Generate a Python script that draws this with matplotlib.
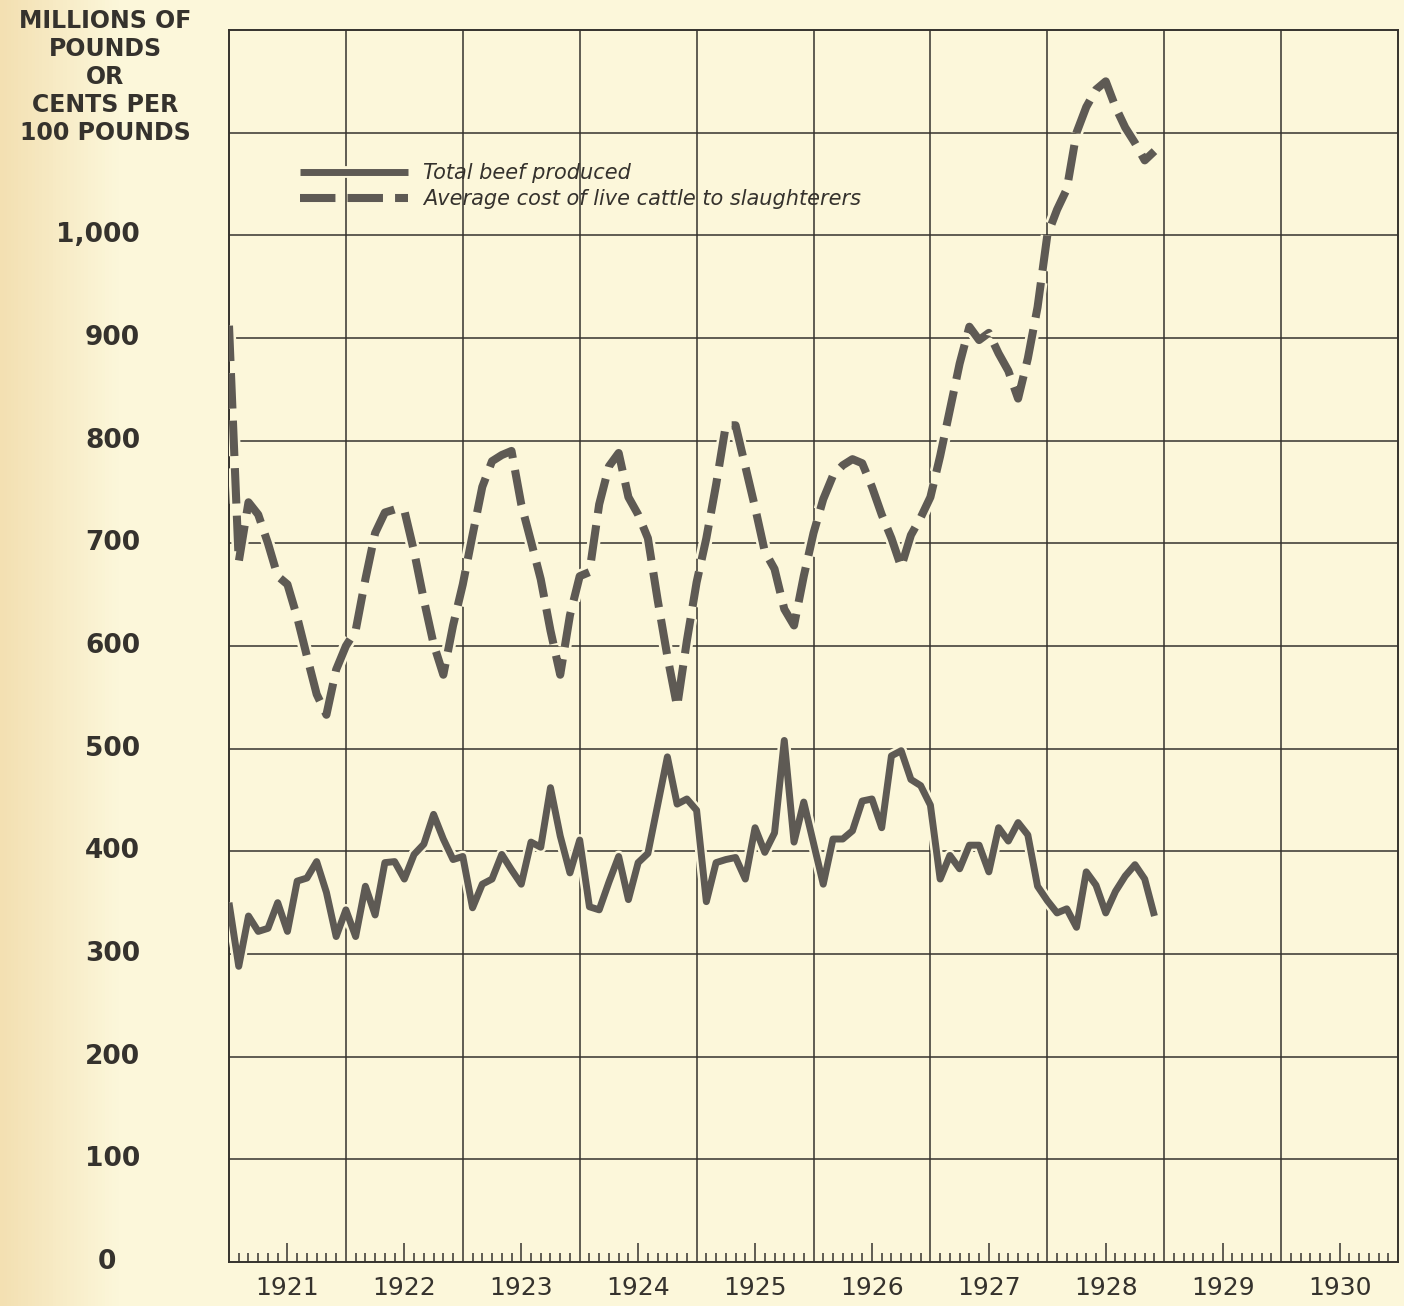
import numpy as np
import matplotlib.pyplot as plt
from matplotlib import patheffects as pe

# monthly series, Jan 1921 - Dec 1928
beef = [350, 288, 337, 322, 325, 350, 322, 371, 374, 390,
        360, 317, 343, 317, 366, 338, 389, 390, 373, 397,
        407, 436, 412, 392, 395, 345, 368, 373, 397, 382,
        368, 409, 404, 462, 415, 379, 411, 346, 343, 370,
        395, 353, 389, 398, 445, 492, 446, 451, 440, 351,
        389, 392, 394, 373, 423, 399, 418, 508, 409, 448,
        408, 368, 412, 412, 420, 449, 451, 423, 493, 498,
        470, 464, 445, 373, 396, 383, 406, 406, 380, 423,
        410, 428, 416, 366, 352, 340, 344, 326, 380, 367,
        340, 361, 376, 387, 373, 337]

cattle = [912, 682, 740, 728, 700, 668, 660, 628, 590, 553,
          533, 577, 600, 615, 665, 710, 730, 733, 732, 692,
          645, 602, 572, 620, 660, 708, 755, 780, 786, 790,
          738, 702, 665, 615, 572, 630, 668, 672, 738, 775,
          788, 745, 728, 705, 645, 590, 541, 605, 662, 705,
          757, 815, 815, 775, 735, 692, 675, 636, 620, 668,
          710, 743, 766, 776, 782, 778, 755, 728, 705, 677,
          708, 725, 745, 785, 830, 875, 911, 898, 905, 885,
          868, 841, 880, 930, 1000, 1025, 1045, 1100, 1125, 1142,
          1150, 1125, 1105, 1090, 1073, 1082]

years = ['1921', '1922', '1923', '1924', '1925',
         '1926', '1927', '1928', '1929', '1930']
y_ticks = [0, 100, 200, 300, 400, 500, 600, 700, 800, 900, 1000]
y_labels = ['0', '100', '200', '300', '400', '500',
            '600', '700', '800', '900', '1,000']
series_labels = ['Total beef produced',
                 'Average cost of live cattle to slaughterers']
unit_label = 'MILLIONS OF\nPOUNDS\nOR\nCENTS PER\n100 POUNDS'

paper = '#fcf7da'
ink = '#35322d'
line_col = '#5e5a54'

fig = plt.figure(figsize=(14.04, 13.06), dpi=100, facecolor=paper)

# slightly darker paper toward the left edge
bg = fig.add_axes([0, 0, 1, 1], zorder=-5)
grad = np.linspace(0, 1, 400)
tint = np.clip(grad * 12, 0, 1)
img = np.zeros((2, 400, 3))
edge = np.array([243, 224, 178]) / 255
base = np.array([252, 247, 218]) / 255
img[:] = edge + (base - edge) * tint[:, None]
bg.imshow(img, aspect='auto', extent=(0, 1, 0, 1))
bg.set_axis_off()

ax = fig.add_axes([229 / 1404, 44 / 1306, 1169 / 1404, 1232 / 1306])
ax.set_facecolor(paper)

n_months = 12 * len(years)
ax.set_xlim(0, n_months)
ax.set_ylim(0, 1200)

# grid: year columns and 100-unit rows
for k in range(1, len(years)):
    ax.axvline(12 * k, color=ink, lw=1.1, zorder=1)
for v in range(100, 1200, 100):
    ax.axhline(v, color=ink, lw=1.1, zorder=1)
for s in ax.spines.values():
    s.set_color(ink)
    s.set_linewidth(1.4)

# month ticks along the bottom, taller one at mid-year
mid = [12 * k + 6 for k in range(len(years))]
small = [m for m in range(1, n_months) if m % 6 != 0]
ax.set_xticks(mid)
ax.set_xticklabels([])
ax.set_xticks(small, minor=True)
ax.tick_params(axis='x', which='major', direction='in', length=14, width=1.1,
               color=ink, top=False)
ax.tick_params(axis='x', which='minor', direction='in', length=6.5, width=1.1,
               color=ink, top=False)
ax.set_yticks([])

xt = ax.get_xaxis_transform()
for k, yr in enumerate(years):
    ax.text(12 * k + 6, -0.021, yr, transform=xt, ha='center', va='center',
            fontsize=18, color=ink, family='DejaVu Sans')

yt = ax.get_yaxis_transform()
for v, lab in zip(y_ticks, y_labels):
    if v == 0:
        ax.text(-0.104, v, lab, transform=yt, ha='center', va='center',
                fontsize=19, fontweight='bold', color=ink)
    else:
        ax.text(-0.076, v, lab, transform=yt, ha='right', va='center',
                fontsize=19, fontweight='bold', color=ink)

fig.text(105 / 1404, 1 - 77 / 1306, unit_label, ha='center', va='center',
         multialignment='center', fontsize=17, fontweight='bold', color=ink,
         linespacing=1.2)

months = np.arange(len(beef))
halo = paper
h1, = ax.plot(months, beef, color=line_col, lw=5.0, solid_joinstyle='round',
              solid_capstyle='butt', zorder=3,
              path_effects=[pe.Stroke(linewidth=8.5, foreground=halo), pe.Normal()])
h2, = ax.plot(months, cattle, color=line_col, lw=5.8, dashes=(4.4, 1.5),
              dash_capstyle='butt', dash_joinstyle='round', zorder=3,
              path_effects=[pe.Stroke(linewidth=9.5, foreground=halo), pe.Normal()])

leg = ax.legend([h1, h2], series_labels, loc='upper left',
                bbox_to_anchor=(0.0607, 0.892), frameon=False,
                prop={'family': 'DejaVu Sans', 'style': 'italic', 'size': 15},
                handlelength=5.2, handletextpad=0.7, labelspacing=0.3,
                borderpad=0, borderaxespad=0)
for t in leg.get_texts():
    t.set_color(ink)

fig.savefig('out.png', dpi=100, facecolor=paper)
